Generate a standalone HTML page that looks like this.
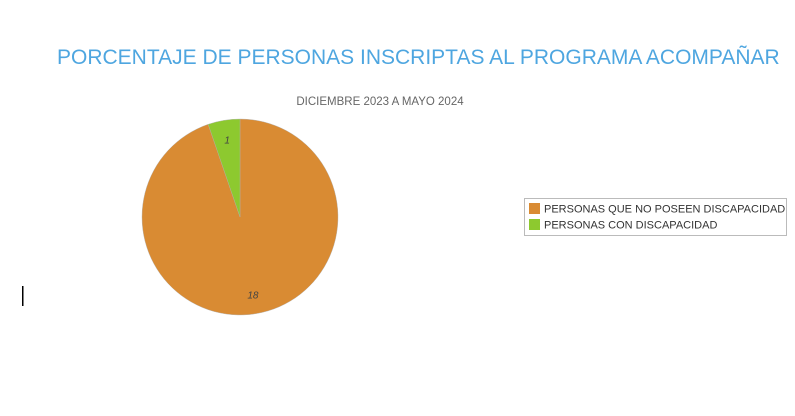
<!DOCTYPE html>
<html><head><meta charset="utf-8"><style>
body{margin:0;width:795px;height:411px;background:#fff;overflow:hidden;font-family:"Liberation Sans",sans-serif;}
</style></head><body>
<svg width="795" height="411">
<text x="57" y="64" font-size="21" fill="#4ea6e0">PORCENTAJE DE PERSONAS INSCRIPTAS AL PROGRAMA ACOMPAÑAR</text>
<text x="380" y="105" font-size="11.5" fill="#666" text-anchor="middle">DICIEMBRE 2023 A MAYO 2024</text>
<g id="pie"></g>
<g>
<rect x="524.5" y="198.5" width="262" height="37" fill="#fff" stroke="#bbb"/>
<rect x="529" y="203" width="11" height="11" fill="#d98b33"/>
<text x="544" y="212.5" font-size="11" fill="#333">PERSONAS QUE NO POSEEN DISCAPACIDAD</text>
<rect x="529" y="219" width="11" height="11" fill="#8dc92f"/>
<text x="544" y="228.5" font-size="11" fill="#333">PERSONAS CON DISCAPACIDAD</text>
</g>
<rect x="22" y="286" width="1.5" height="20" fill="#000"/>
</svg>
<script>
const categories=["PERSONAS QUE NO POSEEN DISCAPACIDAD","PERSONAS CON DISCAPACIDAD"];
const values=[18,1];
const colors=["#d98b33","#8dc92f"];
const cx=240,cy=217,r=98;
const g=document.getElementById('pie');
const ns="http://www.w3.org/2000/svg";
const total=values.reduce((a,b)=>a+b,0);
let a0=0;
values.forEach((v,i)=>{
  const a1=a0+v/total*2*Math.PI;
  const p=t=>[cx+r*Math.sin(t),cy-r*Math.cos(t)];
  const [x0,y0]=p(a0),[x1,y1]=p(a1);
  const path=document.createElementNS(ns,'path');
  path.setAttribute('d',`M${cx},${cy}L${x0},${y0}A${r},${r} 0 ${a1-a0>Math.PI?1:0} 1 ${x1},${y1}Z`);
  path.setAttribute('fill',colors[i]);
  path.setAttribute('stroke','#b0b0b0');
  path.setAttribute('stroke-width','0.4');
  
  
  g.appendChild(path);
  const mid=(a0+a1)/2, lr=r*0.8;
  const t=document.createElementNS(ns,'text');
  t.setAttribute('x',cx+lr*Math.sin(mid));
  t.setAttribute('y',cy-lr*Math.cos(mid)+4);
  t.setAttribute('font-size','10');
  t.setAttribute('font-style','italic');
  t.setAttribute('fill','#444');
  t.setAttribute('text-anchor','middle');
  t.textContent=v;
  
  
  g.appendChild(t);
  a0=a1;
});
</script>
</body></html>
